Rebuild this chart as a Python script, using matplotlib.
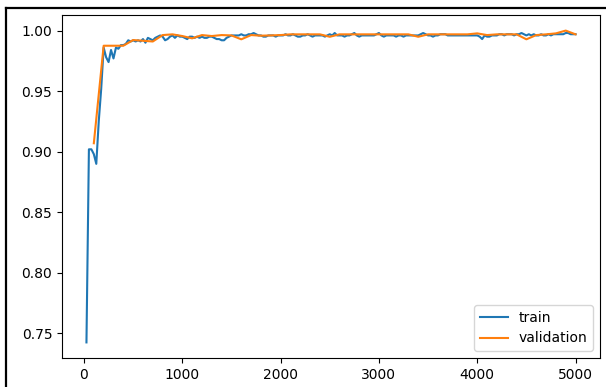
import numpy as np
import matplotlib
matplotlib.use("Agg")
import matplotlib.pyplot as plt
from matplotlib.lines import Line2D


# 1) Data


train_steps = np.arange(25, 5001, 25)
train_acc = [
    0.7426, 0.902, 0.902, 0.898, 0.890, 0.925, 0.952, 0.986, 0.978, 0.974,
    0.984, 0.977, 0.986, 0.985, 0.988, 0.988, 0.989, 0.992, 0.991, 0.992,
    0.991, 0.992, 0.991, 0.993, 0.990, 0.994, 0.993, 0.992, 0.994, 0.995,
    0.996, 0.995, 0.992, 0.993, 0.995, 0.996, 0.994, 0.996, 0.995, 0.995,
    0.994, 0.993, 0.995, 0.995, 0.994, 0.995, 0.994, 0.995, 0.994, 0.994,
    0.995, 0.995, 0.994, 0.993, 0.993, 0.992, 0.992, 0.994, 0.995, 0.996,
    0.996, 0.996, 0.996, 0.997, 0.996, 0.996, 0.997, 0.997, 0.998, 0.997,
    0.996, 0.996, 0.995, 0.995, 0.996, 0.996, 0.996, 0.995, 0.996, 0.996,
    0.996, 0.997, 0.996, 0.996, 0.997, 0.996, 0.995, 0.995, 0.996, 0.996,
    0.997, 0.996, 0.995, 0.996, 0.996, 0.996, 0.996, 0.995, 0.996, 0.997,
    0.996, 0.998, 0.996, 0.996, 0.996, 0.995, 0.996, 0.996, 0.997, 0.998,
    0.996, 0.995, 0.996, 0.996, 0.996, 0.996, 0.996, 0.996, 0.997, 0.998,
    0.996, 0.995, 0.996, 0.996, 0.996, 0.996, 0.995, 0.996, 0.996, 0.995,
    0.996, 0.996, 0.996, 0.996, 0.996, 0.996, 0.997, 0.998, 0.997, 0.996,
    0.996, 0.995, 0.996, 0.996, 0.997, 0.997, 0.997, 0.996, 0.996, 0.996,
    0.996, 0.996, 0.996, 0.996, 0.996, 0.996, 0.996, 0.996, 0.996, 0.996,
    0.995, 0.993, 0.996, 0.995, 0.995, 0.996, 0.996, 0.996, 0.997, 0.997,
    0.996, 0.997, 0.997, 0.997, 0.996, 0.997, 0.997, 0.998, 0.997, 0.996,
    0.997, 0.996, 0.997, 0.996, 0.996, 0.997, 0.996, 0.996, 0.997, 0.996,
    0.997, 0.997, 0.997, 0.997, 0.997, 0.998, 0.998, 0.997, 0.997, 0.997,
]

val_steps = np.arange(100, 5001, 100)
val_acc = [
    0.907, 0.9875, 0.9875, 0.9875, 0.9922, 0.9916, 0.991, 0.9963, 0.9969, 0.9955,
    0.9936, 0.9963, 0.9955, 0.9963, 0.996, 0.9928, 0.9963, 0.9958, 0.996, 0.9963,
    0.9969, 0.9969, 0.9969, 0.9969, 0.9949, 0.9969, 0.9969, 0.9969, 0.9969, 0.9969,
    0.9969, 0.9969, 0.9969, 0.9949, 0.9969, 0.9969, 0.9969, 0.9969, 0.9969, 0.9977,
    0.9963, 0.9969, 0.9969, 0.9969, 0.9928, 0.9963, 0.9969, 0.9977, 1.000, 0.9969,
]


# 2) Plot


W, H = 606, 387
fig = plt.figure(figsize=(W / 100, H / 100), dpi=100)
ax = fig.add_axes([62 / W, 1 - 358 / H, (600 - 62) / W, (358 - 15) / H])

ax.plot(train_steps, train_acc, label="train")
ax.plot(val_steps, val_acc, label="validation")
ax.set_yticks([0.75, 0.80, 0.85, 0.90, 0.95, 1.00])
ax.legend(loc="lower right")

# screenshot frame (left and top edges)
fig.add_artist(Line2D([5.5 / W, 5.5 / W], [0, 1 - 7.5 / H],
                      transform=fig.transFigure, color="black", lw=1.6))
fig.add_artist(Line2D([5.5 / W, 1], [1 - 7.5 / H, 1 - 7.5 / H],
                      transform=fig.transFigure, color="black", lw=1.6))

fig.savefig("out.png", dpi=100)
